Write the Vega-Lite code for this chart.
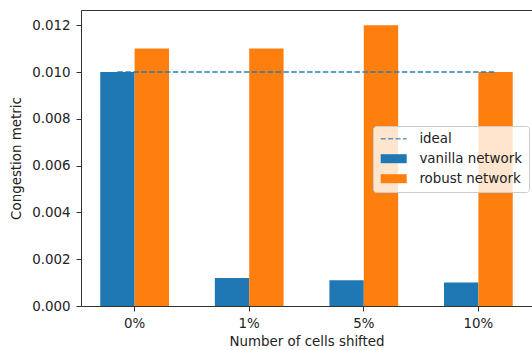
{
  "$schema": "https://vega.github.io/schema/vega-lite/v6.json",
  "width": 451,
  "height": 296,
  "autosize": "none",
  "padding": {"left": 81, "top": 10, "right": 0, "bottom": 44},
  "background": "white",
  "config": {
    "view": {"stroke": "#333333", "strokeWidth": 1},
    "font": "DejaVu Sans",
    "axis": {
      "labelFont": "DejaVu Sans", "labelFontSize": 13.4, "labelColor": "#222222",
      "titleFont": "DejaVu Sans", "titleFontSize": 13.4, "titleFontWeight": "normal", "titleColor": "#222222",
      "tickColor": "#333333", "tickSize": 5, "tickWidth": 1, "domain": false, "grid": false, "labelPadding": 5
    }
  },
  "datasets": {
    "bars": [
      {"shift": "0%", "series": "vanilla network", "value": 0.010},
      {"shift": "1%", "series": "vanilla network", "value": 0.0012},
      {"shift": "5%", "series": "vanilla network", "value": 0.0011},
      {"shift": "10%", "series": "vanilla network", "value": 0.001},
      {"shift": "0%", "series": "robust network", "value": 0.011},
      {"shift": "1%", "series": "robust network", "value": 0.011},
      {"shift": "5%", "series": "robust network", "value": 0.012},
      {"shift": "10%", "series": "robust network", "value": 0.010}
    ],
    "ideal": [
      {"series": "ideal", "start": "0%", "end": "10%", "value": 0.010}
    ]
  },
  "layer": [
    {
      "data": {"name": "bars"},
      "mark": {"type": "bar"},
      "encoding": {
        "x": {
          "field": "shift", "type": "nominal",
          "scale": {"domain": ["0%", "1%", "5%", "10%"], "paddingInner": 0.4, "paddingOuter": 0.168},
          "axis": {"title": "Number of cells shifted", "labelAngle": 0, "titlePadding": 5}
        },
        "xOffset": {
          "field": "series", "type": "nominal",
          "scale": {"domain": ["vanilla network", "robust network"], "paddingInner": 0, "paddingOuter": 0}
        },
        "y": {
          "field": "value", "type": "quantitative",
          "scale": {"domain": [0, 0.01265], "nice": false, "zero": true},
          "axis": {"title": "Congestion metric", "values": [0, 0.002, 0.004, 0.006, 0.008, 0.010, 0.012], "format": ".3f", "titlePadding": 8, "labelPadding": 6}
        },
        "color": {
          "field": "series", "type": "nominal",
          "scale": {"domain": ["ideal", "vanilla network", "robust network"], "range": ["#1f77b4", "#1f77b4", "#ff7f0e"]},
          "legend": {
            "orient": "none", "legendX": 292, "legendY": 116, "title": null,
            "labelFont": "DejaVu Sans", "labelFontSize": 13.4, "labelColor": "#222222", "labelLimit": 300,
            "symbolSize": 100, "labelOffset": 27, "rowPadding": 5, "padding": 6,
            "fillColor": "rgba(255,255,255,0.8)", "strokeColor": "#cccccc", "cornerRadius": 3,
            "encode": {
              "symbols": {
                "update": {
                  "shape": {"signal": "datum.value === 'ideal' ? 'M-1,0H4.2' : 'M-1,-0.9H4.2V0.9H-1Z'"},
                  "fill": {"signal": "datum.value === 'ideal' ? 'transparent' : scale('color', datum.value)"},
                  "stroke": {"signal": "datum.value === 'ideal' ? '#1f77b4' : 'transparent'"},
                  "strokeDash": {"signal": "datum.value === 'ideal' ? [5, 2.4] : [1, 0]"},
                  "strokeWidth": {"signal": "datum.value === 'ideal' ? 1.5 : 0"},
                  "opacity": {"signal": "datum.value === 'ideal' ? 0.7 : 1"}
                }
              }
            }
          }
        }
      }
    },
    {
      "data": {"name": "ideal"},
      "mark": {"type": "rule", "strokeDash": [5.5, 2.4], "strokeWidth": 2, "opacity": 0.7},
      "encoding": {
        "x": {"field": "start", "type": "nominal", "bandPosition": 0.25},
        "x2": {"field": "end", "bandPosition": 0.75},
        "y": {"field": "value", "type": "quantitative"},
        "color": {"field": "series", "type": "nominal"}
      }
    }
  ]
}
